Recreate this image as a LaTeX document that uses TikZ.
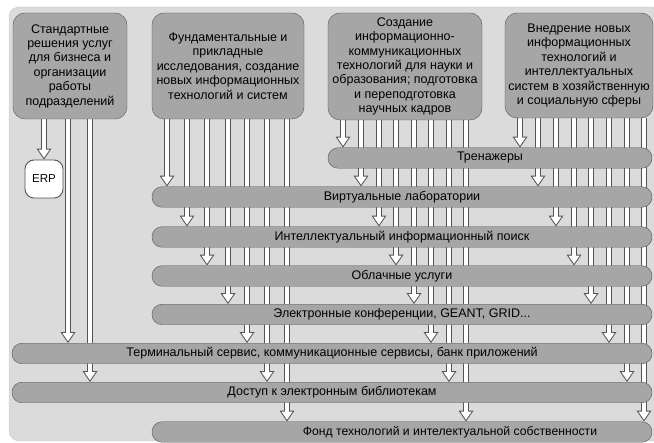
\documentclass[tikz,border=0pt]{standalone}
\usepackage{fontspec}
\setmainfont{Liberation Sans}
\usetikzlibrary{arrows.meta}

\definecolor{panel}{gray}{0.86}
\definecolor{bargray}{gray}{0.65}
\definecolor{edgegray}{gray}{0.33}

\pgfdeclarelayer{back}
\pgfdeclarelayer{cols}
\pgfsetlayers{back,cols,main}

\tikzset{
  topbox/.style={draw=edgegray, fill=bargray, rounded corners=12pt, align=center,
    inner sep=0pt, font=\fontsize{12.5}{14.4}\selectfont},
  bar/.style={draw=edgegray, fill=bargray, rounded corners=10pt, minimum height=20.5pt,
    inner sep=0pt, font=\fontsize{12.5}{14}\selectfont},
  erpbox/.style={draw=edgegray, line width=0.9pt, fill=white, rounded corners=9pt, minimum size=38pt,
    inner sep=0pt, font=\fontsize{11.5}{13}\selectfont},
  col/.style={draw=edgegray, line width=6pt,
    -{Triangle[width=15pt,length=11pt,line width=0pt]},
    postaction={draw=white, line width=4pt,
      -{Triangle[width=11pt,length=8pt,line width=0pt]}, shorten >=1.8pt}}
}

\begin{document}
\begin{tikzpicture}[x=1pt,y=-1pt]
  \useasboundingbox (0,0) rectangle (654,443);
  \begin{pgfonlayer}{back}
    \draw[draw=black!45, densely dotted, fill=panel, rounded corners=10pt] (9,7) rectangle (664,441);
  \end{pgfonlayer}

  % sources
  \node[topbox, minimum width=114pt, minimum height=106pt] (std) at (70,66)
    {Стандартные\\решения услуг\\для бизнеса и\\организации\\работы\\подразделений};
  \node[topbox, minimum width=152pt, minimum height=106pt] (research) at (228,66)
    {Фундаментальные и\\прикладные\\исследования, создание\\новых информационных\\технологий и систем};
  \node[topbox, minimum width=154pt, minimum height=107pt] (ict) at (405,66.5)
    {Создание\\информационно-\\коммуникационных\\технологий для науки и\\образования; подготовка\\и переподготовка\\научных кадров};
  \node[topbox, minimum width=148pt, minimum height=105pt] (impl) at (579,65.5)
    {Внедрение новых\\информационных\\технологий и\\интеллектуальных\\систем в хозяйственную\\и социальную сферы};

  \node[erpbox] (erp) at (44,179) {ERP};

  % services
  \node[bar, minimum width=324pt] (tren) at (490,158) {Тренажеры};
  \node[bar, minimum width=500pt] (virt) at (402,197) {Виртуальные лаборатории};
  \node[bar, minimum width=500pt] (search) at (402,237) {Интеллектуальный информационный поиск};
  \node[bar, minimum width=500pt] (cloud) at (402,276) {Облачные услуги};
  \node[bar, minimum width=500pt] (conf) at (402,314.5) {Электронные конференции, GEANT, GRID...};
  \node[bar, minimum width=640pt] (term) at (332,353.5) {Терминальный сервис, коммуникационные сервисы, банк приложений};
  \node[bar, minimum width=640pt] (lib) at (332,392.5) {Доступ к электронным библиотекам};
  \node[bar, minimum width=500pt, font=\fontsize{12.2}{14}\selectfont] (patent) at (402,432)
    {\hspace{96pt}Фонд технологий и интелектуальной собственности};

  \begin{pgfonlayer}{cols}
    \draw[col] (std.south -| erp.north) -- (erp.north);
    \foreach \x/\t in {68/term,90/lib}
      \draw[col] (std.south -| \x,0) -- (\t.north -| \x,0);
    \foreach \x/\t in {167/virt,187/search,207/cloud,228/conf,247/term,267/lib,287/patent}
      \draw[col] (research.south -| \x,0) -- (\t.north -| \x,0);
    \foreach \x/\t in {343/tren,361/virt,379/search,396/cloud,414/conf,431/term,449/lib,466/patent}
      \draw[col] (ict.south -| \x,0) -- (\t.north -| \x,0);
    \foreach \x/\t in {520/tren,538/virt,556/search,574/cloud,591/conf,609/term,627/lib,644/patent}
      \draw[col] (impl.south -| \x,0) -- (\t.north -| \x,0);
  \end{pgfonlayer}
\end{tikzpicture}
\end{document}
